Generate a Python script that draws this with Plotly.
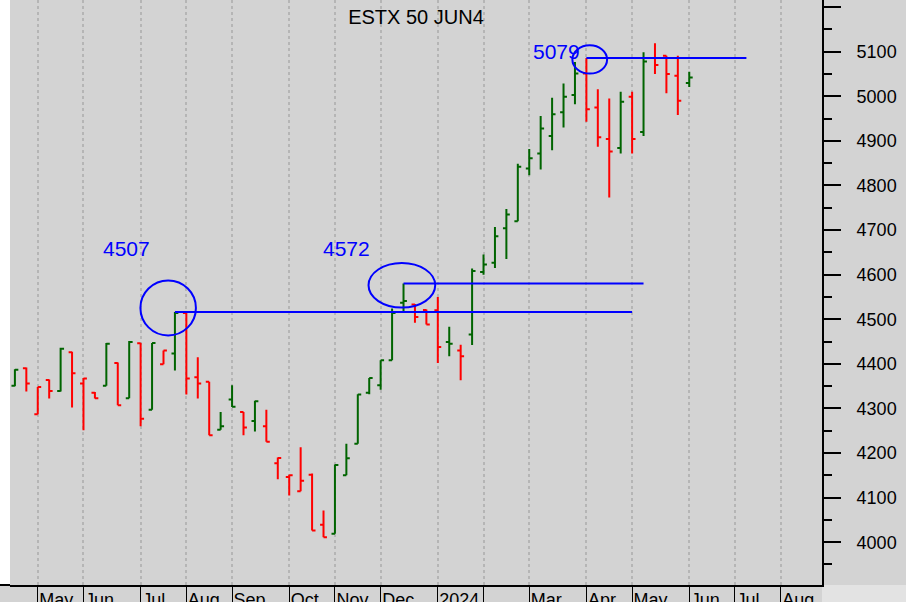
import pandas as pd
import plotly.graph_objects as go

TITLE = "ESTX 50 JUN4"
FONT = "Arial, Liberation Sans, sans-serif"
BG = "#d3d3d3"
UP_COLOR = "#006400"
DOWN_COLOR = "#ff0000"
LEVEL_COLOR = "#0000ff"

# weekly bars, dated on the Friday of each week
first_week = "2023-04-21"

opens = [4351, 4390, 4287, 4364, 4339, 4426, 4356, 4335, 4351, 4402,
         4323, 4446, 4297, 4399, 4423, 4514, 4370, 4360, 4252, 4320,
         4292, 4272, 4260, 4177, 4146, 4114, 4151, 4039, 4019, 4150,
         4221, 4335, 4352, 4408, 4537, 4533, 4521, 4520, 4449, 4430,
         4466, 4606, 4627, 4704, 4720, 4838, 4872, 4911, 4964, 5003,
         5051, 4975, 4904, 4884, 4999, 4920, 5086, 5091, 5046, 5030]
highs = [4388, 4392, 4348, 4365, 4436, 4427, 4368, 4337, 4447, 4403,
         4451, 4447, 4447, 4430, 4516, 4514, 4415, 4360, 4292, 4352,
         4292, 4317, 4297, 4190, 4151, 4213, 4154, 4071, 4174, 4221,
         4332, 4368, 4408, 4524, 4580, 4534, 4522, 4550, 4483, 4443,
         4614, 4645, 4707, 4747, 4849, 4882, 4956, 4997, 5029, 5077,
         5086, 5016, 4995, 5010, 5010, 5099, 5119, 5091, 5091, 5055]
lows = [4350, 4338, 4287, 4322, 4338, 4302, 4251, 4322, 4351, 4307,
        4323, 4260, 4297, 4399, 4385, 4331, 4322, 4240, 4252, 4303,
        4240, 4248, 4225, 4141, 4105, 4114, 4026, 4011, 4019, 4150,
        4221, 4332, 4342, 4408, 4516, 4492, 4488, 4402, 4417, 4363,
        4442, 4600, 4615, 4635, 4720, 4823, 4836, 4879, 4930, 4982,
        4943, 4887, 4773, 4872, 4872, 4911, 5050, 5007, 4958, 5021]
closes = [4387, 4356, 4348, 4339, 4434, 4379, 4367, 4323, 4445, 4307,
          4449, 4277, 4447, 4430, 4514, 4367, 4356, 4240, 4260, 4304,
          4257, 4316, 4225, 4189, 4150, 4138, 4026, 4011, 4173, 4188,
          4331, 4368, 4408, 4514, 4541, 4505, 4488, 4438, 4445, 4417,
          4608, 4623, 4686, 4735, 4842, 4861, 4928, 4960, 4999, 5051,
          4971, 4908, 4876, 4988, 4904, 5078, 5070, 5050, 4990, 5042]

# marked highs: bar index, where the line stops, printed label
level_bars = [14, 34, 50]
level_ends = ["2024-05-03", "2024-05-10", "2024-07-12"]
level_labels = ["4507", "4572", "5079"]

# first weekly bar of each month
month_starts = ["2023-05-05", "2023-06-02", "2023-07-07", "2023-08-04",
                "2023-09-01", "2023-10-06", "2023-11-03", "2023-12-01",
                "2024-01-05", "2024-02-02", "2024-03-01", "2024-04-05",
                "2024-05-03", "2024-06-07", "2024-07-05", "2024-08-02"]
month_labels = ["May", "Jun", "Jul", "Aug", "Sep", "Oct", "Nov", "Dec",
                "2024", "", "Mar", "Apr", "May", "Jun", "Jul", "Aug"]

df = pd.DataFrame({"open": opens, "high": highs, "low": lows, "close": closes})
df["date"] = pd.date_range(first_week, periods=len(df), freq="W-FRI")
# bar colour follows the close against the previous week's close
df["prev"] = df["close"].shift(1).fillna(df["open"])
up = df[df["close"] >= df["prev"]]
down = df[df["close"] < df["prev"]]

fig = go.Figure()
for part, color in ((up, UP_COLOR), (down, DOWN_COLOR)):
    fig.add_trace(go.Ohlc(
        x=part["date"], open=part["open"], high=part["high"],
        low=part["low"], close=part["close"],
        increasing=dict(line=dict(color=color, width=2)),
        decreasing=dict(line=dict(color=color, width=2)),
        tickwidth=0.3, showlegend=False, hoverinfo="x+y"))

# circle size/offset in pixels around each marked high, label offsets
circles = [(-34.5, 21, -23.3, 31.7), (-35, 31.7, -24, 20.6), (-14, 20.7, -15.6, 12.7)]
label_shifts = [(-48, 64), (-57, 35), (-30, 6)]

shapes = []
annotations = []
for k, idx in enumerate(level_bars):
    x0 = df["date"][idx]
    lvl = df["high"][idx]
    shapes.append(dict(type="line", xref="x", yref="y", x0=x0, x1=level_ends[k],
                       y0=lvl, y1=lvl, line=dict(color=LEVEL_COLOR, width=2)))
    cx0, cx1, cy0, cy1 = circles[k]
    shapes.append(dict(type="circle", xref="x", yref="y", xsizemode="pixel",
                       ysizemode="pixel", xanchor=x0, yanchor=lvl,
                       x0=cx0, x1=cx1, y0=cy0, y1=cy1,
                       line=dict(color=LEVEL_COLOR, width=2)))
    annotations.append(dict(x=x0, y=lvl, xref="x", yref="y", text=level_labels[k],
                             showarrow=False, xshift=label_shifts[k][0],
                             yshift=label_shifts[k][1],
                             font=dict(size=21, color=LEVEL_COLOR, family=FONT)))

# white strip left of the plot, lighter corner under the price scale
shapes.append(dict(type="rect", xref="paper", yref="paper", x0=-0.03, x1=0,
                   y0=0, y1=1, fillcolor="white", line_width=0, layer="below"))
shapes.append(dict(type="rect", xref="paper", yref="paper", x0=1, x1=1.2,
                   y0=-0.1, y1=0, fillcolor="#e3e3e3", line_width=0, layer="below"))
shapes.append(dict(type="line", xref="paper", yref="paper", x0=-0.013, x1=0,
                   y0=0, y1=0, line=dict(color="black", width=2)))

fig.update_layout(
    width=906, height=602,
    margin=dict(l=10, r=84, t=0, b=17, autoexpand=False),
    paper_bgcolor=BG, plot_bgcolor=BG,
    font=dict(family=FONT, size=18, color="black"),
    title=dict(text=TITLE, x=0.5, xref="paper", xanchor="center",
               y=1 - 17 / 602, yref="container", yanchor="middle",
               font=dict(size=20, color="black", family=FONT)),
    shapes=shapes, annotations=annotations,
    showlegend=False,
)
fig.update_xaxes(
    type="date", range=["2023-04-18", "2024-08-27 07:00"],
    rangeslider=dict(visible=False),
    tickvals=month_starts, ticktext=month_labels,
    ticks="outside", ticklen=17, tickwidth=1, tickcolor="black",
    ticklabelposition="outside right", ticklabelstandoff=-3,
    tickfont=dict(size=18, color="black"),
    showgrid=True, gridcolor="#b5b5b5", griddash="dot", gridwidth=1.5,
    showline=True, linecolor="black", linewidth=2, zeroline=False,
)
fig.update_yaxes(
    side="right", range=[3904, 5216], dtick=100, tick0=0,
    ticks="outside", ticklen=17, tickwidth=1.5, tickcolor="black",
    ticklabelstandoff=12, tickfont=dict(size=18, color="black"),
    minor=dict(dtick=50, ticks="outside", ticklen=8, tickwidth=1.5,
               tickcolor="black", showgrid=False),
    showgrid=False, zeroline=False,
    showline=True, linecolor="black", linewidth=2,
)

# the page's default body margin would push the 906x602 figure off the window
fig.write_html("out.html", config={"displayModeBar": False},
               post_script="document.body.style.margin='0';"
                           "document.body.style.overflow='hidden';")
